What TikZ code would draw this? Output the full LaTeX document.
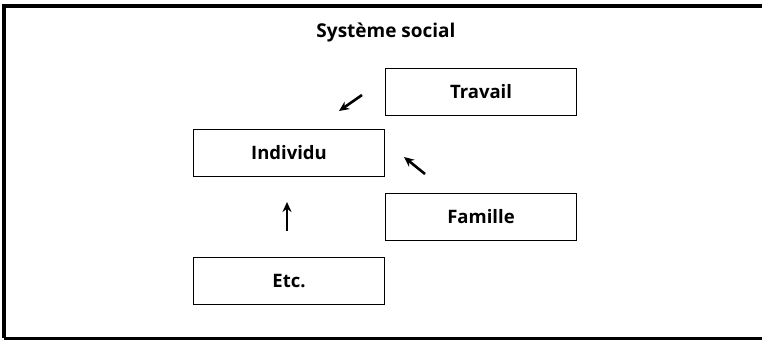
\documentclass[tikz,border=0pt]{standalone}
\usepackage{fontspec}
\setmainfont{Open Sans}
\usetikzlibrary{arrows.meta}

\begin{document}
\begin{tikzpicture}[
        box/.style = {draw, line width = 1.5pt, minimum width = 191pt, minimum height = 47pt, font = \fontsize{18.5}{22}\selectfont\bfseries},
        link/.style = {-{Stealth[length = 10pt, width = 9pt]}, line width = 2.6pt}]
        \useasboundingbox (0pt, 0pt) rectangle (762pt, -340pt);

        % Frame
        \coordinate (tr) at (762pt, -6pt);
        \coordinate (tl) at (4pt, -6pt);
        \coordinate (bl) at (4pt, -338pt);
        \coordinate (br) at (762pt, -338pt);
        \draw [line width = 4pt] (tr) -- (tl) -- (bl);
        \draw [line width = 3pt] (bl) -- (br);

        % Title
        \node [font = \fontsize{19}{23}\selectfont\bfseries] (title) at (386pt, -33pt) {Système social};

        % Nodes
        \node [box] (travail) at (481pt, -92pt) {Travail};
        \node [box] (individu) at (289pt, -153pt) {Individu};
        \node [box] (famille) at (481pt, -217pt) {Famille};
        \node [box] (etc) at (289pt, -281pt) {Etc.};

        % Arrows
        \coordinate (a1s) at (362pt, -95pt);
        \coordinate (a1e) at (339pt, -111pt);
        \coordinate (a2s) at (425pt, -174pt);
        \coordinate (a2e) at (404pt, -157pt);
        \coordinate (a3s) at (287pt, -231pt);
        \coordinate (a3e) at (287pt, -202pt);
        \draw [link] (a1s) -- (a1e);
        \draw [link] (a2s) -- (a2e);
        \draw [link] (a3s) -- (a3e);

    \end{tikzpicture}
\end{document}
